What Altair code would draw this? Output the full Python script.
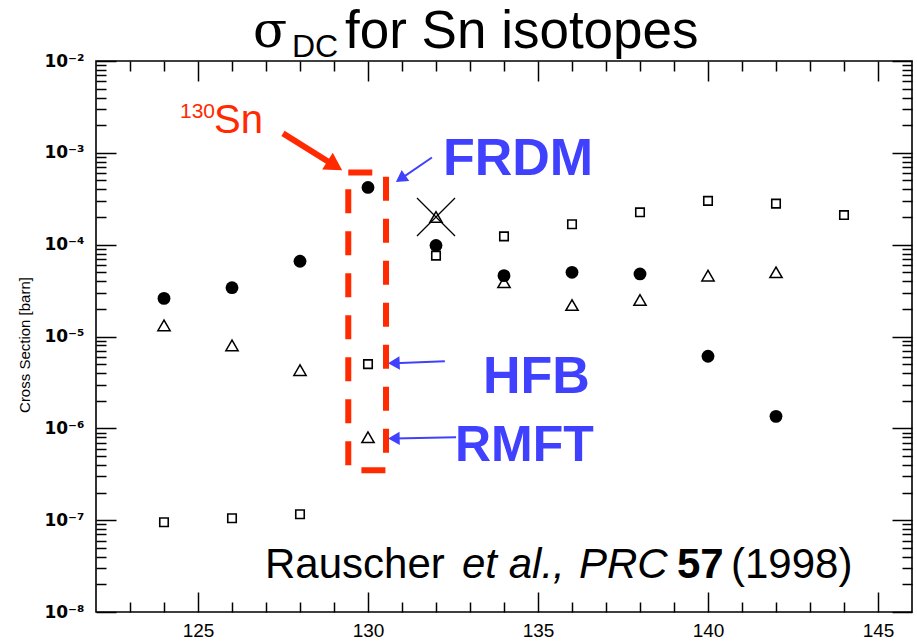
import math
import altair as alt
import pandas as pd

# Sn isotope mass numbers and direct-capture cross sections (barn) for three mass models
mass = [124, 126, 128, 130, 132, 134, 136, 138, 140, 142, 144]
frdm = [2.6e-5, 3.4e-5, 6.6e-5, 4.2e-4, 9.8e-5, 4.6e-5, 5.0e-5, 4.8e-5, 6.1e-6, 1.35e-6, None]
hfb = [9.5e-8, 1.05e-7, 1.16e-7, 5.0e-6, 7.6e-5, 1.23e-4, 1.67e-4, 2.25e-4, 3.0e-4, 2.8e-4, 2.1e-4]
rmft = [1.32e-5, 8.0e-6, 4.3e-6, 8.0e-7, 2.0e-4, 3.9e-5, 2.2e-5, 2.5e-5, 4.6e-5, 5.0e-5, None]

# crossed-out value
crossed_mass = [132]
crossed_value = [2.0e-4]

# axis ticks
x_major = [125, 130, 135, 140, 145]
x_minor = [m for m in range(123, 146) if m % 5]
y_exponents = [-8, -7, -6, -5, -4, -3, -2]
y_major = [10.0 ** e for e in y_exponents]
y_minor = [k * 10.0 ** e for e in range(-8, -2) for k in range(2, 10)]

W, H = 816, 551
X_DOMAIN = [122, 146]
Y_DOMAIN = [1e-8, 1e-2]
RED = "#ff2a00"
BLUE = "#4040ff"

xs = alt.Scale(domain=X_DOMAIN, nice=False, zero=False)
ys = alt.Scale(type="log", domain=Y_DOMAIN, nice=False)


def to_px(x, y):
    px = (x - X_DOMAIN[0]) / (X_DOMAIN[1] - X_DOMAIN[0]) * W
    ly0, ly1 = math.log10(Y_DOMAIN[0]), math.log10(Y_DOMAIN[1])
    py = (ly1 - math.log10(y)) / (ly1 - ly0) * H
    return px, py


def from_px(px, py):
    ly0, ly1 = math.log10(Y_DOMAIN[0]), math.log10(Y_DOMAIN[1])
    x = X_DOMAIN[0] + px / W * (X_DOMAIN[1] - X_DOMAIN[0])
    y = 10 ** (ly1 - py / H * (ly1 - ly0))
    return x, y


sup = {"-": "\u207b", "2": "\u00b2", "3": "\u00b3", "4": "\u2074", "5": "\u2075",
       "6": "\u2076", "7": "\u2077", "8": "\u2078"}
y_label_list = ["10" + "".join(sup[c] for c in str(e)) for e in y_exponents]
y_label_expr = "[" + ",".join("'%s'" % s for s in y_label_list) + "][round(log(datum.value)/LN10)+8]"

tick_style = dict(grid=False, domain=False, labels=False, ticks=True, tickColor="black",
                  tickWidth=1.5, title=None)


def tick_axis(orient, values, size, offset):
    return alt.Axis(orient=orient, values=values, tickSize=size, offset=offset, **tick_style)


x_label_axis = alt.Axis(orient="bottom", values=x_major, ticks=False, domain=False, grid=False,
                        labelFont="Liberation Sans", labelFontSize=19, labelColor="black",
                        labelPadding=9, title=None)
y_label_axis = alt.Axis(orient="left", values=y_major, ticks=False, domain=False, grid=False,
                        labelFont="DejaVu Sans", labelFontSize=17, labelFontWeight="bold",
                        labelColor="black", labelPadding=12, labelExpr=y_label_expr, title=None)

models = pd.DataFrame({"mass": mass, "frdm": frdm, "hfb": hfb, "rmft": rmft})

# FRDM: filled circles (carries the labelled axes)
circles = alt.Chart(models).transform_filter("isValid(datum.frdm)").mark_circle(
    size=165, color="black", opacity=1
).encode(
    x=alt.X("mass:Q", scale=xs, axis=x_label_axis),
    y=alt.Y("frdm:Q", scale=ys, axis=y_label_axis),
)

# HFB: open squares (inner major ticks on bottom and left edges)
squares = alt.Chart(models).transform_filter("isValid(datum.hfb)").mark_point(
    shape="square", size=72, filled=False, color="black", strokeWidth=1.6, opacity=1
).encode(
    x=alt.X("mass:Q", scale=xs, axis=tick_axis("top", x_major, 20, -H)),
    y=alt.Y("hfb:Q", scale=ys, axis=tick_axis("right", y_major, 20, -W)),
)

# RMFT: open triangles (inner minor ticks on bottom and left edges)
triangles = alt.Chart(models).transform_filter("isValid(datum.rmft)").mark_point(
    shape="triangle-up", size=150, filled=False, color="black", strokeWidth=1.5, opacity=1
).encode(
    x=alt.X("mass:Q", scale=xs, axis=tick_axis("top", x_minor, 10, -H)),
    y=alt.Y("rmft:Q", scale=ys, axis=tick_axis("right", y_minor, 10, -W)),
)

# crossed-out point
crossed = alt.Chart(pd.DataFrame({"mass": crossed_mass, "value": crossed_value})).mark_point(
    shape="M-1,-1L1,1M1,-1L-1,1", size=1450, filled=False, color="black", strokeWidth=1.3, opacity=1
).encode(
    x=alt.X("mass:Q", scale=xs, axis=tick_axis("bottom", x_minor, 10, -H)),
    y=alt.Y("value:Q", scale=ys, axis=tick_axis("left", y_minor, 10, -W)),
)

# dashed box around A = 130
box = alt.Chart(pd.DataFrame({"x": [129.42], "x2": [130.53], "y": [3.5e-7], "y2": [6.1e-4]})).mark_rect(
    fill="white", fillOpacity=0, stroke=RED, strokeWidth=6, strokeDash=[24, 18]
).encode(
    x=alt.X("x:Q", scale=xs, axis=tick_axis("bottom", x_major, 20, -H)),
    x2="x2:Q",
    y=alt.Y("y:Q", scale=ys, axis=tick_axis("left", y_major, 20, -W)),
    y2="y2:Q",
)

# annotation arrows: (tail mass, tail value, tip mass, tip value, colour, width, head size)
arrow_specs = [
    (127.50, 1.63e-3, 129.24, 6.45e-4, RED, 6, 400),
    (131.88, 8.9e-4, 130.82, 4.8e-4, BLUE, 2, 180),
    (132.26, 5.37e-6, 130.59, 5.1e-6, BLUE, 2, 180),
    (132.59, 7.98e-7, 130.59, 7.73e-7, BLUE, 2, 180),
]
rows = []
for tx, ty, hx, hy, col, lw, hs in arrow_specs:
    p0 = to_px(tx, ty)
    p1 = to_px(hx, hy)
    dx, dy = p1[0] - p0[0], p1[1] - p0[1]
    n = math.hypot(dx, dy)
    ux, uy = dx / n, dy / n
    h = math.sqrt(3) * (math.sqrt(hs) / 2) / 2
    cx, cy = from_px(p1[0] - h * ux, p1[1] - h * uy)
    ang = math.degrees(math.atan2(ux, -uy)) % 360
    rows.append(dict(x=tx, y=ty, x2=cx, y2=cy, col=col, lw=lw, hs=hs, ang=ang))
arrows = pd.DataFrame(rows)

shafts = alt.Chart(arrows).mark_rule().encode(
    x=alt.X("x:Q", scale=xs, axis=None),
    y=alt.Y("y:Q", scale=ys, axis=None),
    x2="x2:Q",
    y2="y2:Q",
    color=alt.Color("col:N", scale=None),
    strokeWidth=alt.StrokeWidth("lw:Q", scale=None),
)
heads = alt.Chart(arrows).mark_point(shape="triangle-up", filled=True, opacity=1).encode(
    x=alt.X("x2:Q", scale=xs, axis=None),
    y=alt.Y("y2:Q", scale=ys, axis=None),
    color=alt.Color("col:N", scale=None),
    size=alt.Size("hs:Q", scale=None),
    angle=alt.Angle("ang:Q", scale=None),
)

one = pd.DataFrame({"k": [0]})


def label(text, x, y, size, color="black", font="Liberation Sans", weight="normal",
          style="normal", angle=0, align="left"):
    return alt.Chart(one).mark_text(
        text=text, font=font, fontSize=size, fontWeight=weight, fontStyle=style,
        color=color, align=align, baseline="alphabetic", angle=angle
    ).encode(x=alt.value(x), y=alt.value(y))


ox, oy = 96, 61  # plot origin within the page
texts = [
    label("\u03c3", 253 - ox, 47 - oy, 50, font="DejaVu Serif"),
    label("DC", 292 - ox, 57 - oy, 32),
    label("for Sn isotopes", 345 - ox, 48 - oy, 53),
    label("Cross Section [barn]", 30 - ox, 345 - oy, 15, angle=270, align="center"),
    label("130", 180 - ox, 118 - oy, 21, color=RED),
    label("Sn", 214 - ox, 133 - oy, 40, color=RED),
    label("FRDM", 443 - ox, 175 - oy, 52, color=BLUE, weight="bold"),
    label("HFB", 483 - ox, 393 - oy, 52, color=BLUE, weight="bold"),
    label("RMFT", 455 - ox, 461 - oy, 50, color=BLUE, weight="bold"),
    label("Rauscher", 265 - ox, 578 - oy, 42),
    label("et al.,", 462 - ox, 578 - oy, 42, style="italic"),
    label("PRC", 579 - ox, 578 - oy, 42, style="italic"),
    label("57", 677 - ox, 578 - oy, 42, weight="bold"),
    label("(1998)", 731 - ox, 578 - oy, 42),
]

chart = alt.layer(
    box, circles, squares, triangles, crossed, shafts, heads, *texts
).resolve_axis(
    x="independent", y="independent"
).properties(
    width=W, height=H,
    autosize=alt.AutoSizeParams(type="none"),
    padding={"left": ox, "top": oy, "right": 917 - ox - W, "bottom": 641 - oy - H},
    background="white",
).configure_view(stroke="black", strokeWidth=1.6)

chart.save("out.html", embed_options={"renderer": "svg", "actions": False})
